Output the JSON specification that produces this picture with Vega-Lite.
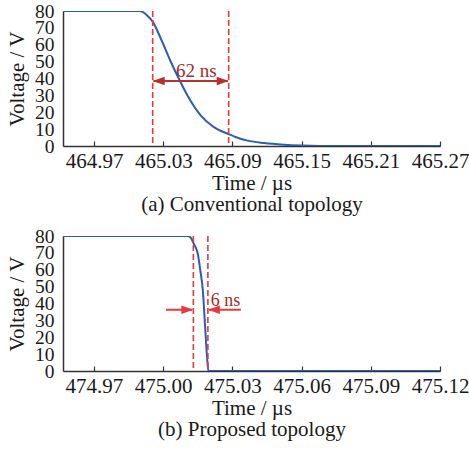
{
  "$schema": "https://vega.github.io/schema/vega-lite/v6.json",
  "padding": {"left": 6, "top": 1, "right": 0, "bottom": 12},
  "background": "white",
  "config": {
    "font": "Liberation Serif",
    "view": {"stroke": null},
    "concat": {"spacing": 12},
    "axis": {
      "labelFont": "Liberation Serif", "labelFontSize": 21, "labelColor": "#1a1a1a",
      "titleFont": "Liberation Serif", "titleFontSize": 21, "titleFontWeight": "normal", "titleColor": "#1a1a1a",
      "domainColor": "#333333", "domainWidth": 1.5, "tickColor": "#333333", "tickWidth": 1.2,
      "grid": false, "labelOverlap": false, "labelFlush": false
    },
    "axisX": {"tickSize": -5, "labelPadding": 9, "titlePadding": 1, "titleLineHeight": 21},
    "axisY": {"ticks": false, "labelPadding": 9, "titlePadding": 7, "labelFontSize": 19.5}
  },
  "datasets": {
    "wave_a": [
      {"t": 464.943, "v": 80}, {"t": 465.009, "v": 80}, {"t": 465.0125, "v": 79.3},
      {"t": 465.016, "v": 77.3}, {"t": 465.0208, "v": 73.7}, {"t": 465.028, "v": 63.4},
      {"t": 465.0366, "v": 49.8}, {"t": 465.0436, "v": 39.7}, {"t": 465.0511, "v": 29.8},
      {"t": 465.0626, "v": 18.0}, {"t": 465.0739, "v": 11.2}, {"t": 465.0867, "v": 7.0},
      {"t": 465.0956, "v": 4.6}, {"t": 465.1031, "v": 3.2}, {"t": 465.1173, "v": 1.8},
      {"t": 465.1346, "v": 0.8}, {"t": 465.15, "v": 0.3}, {"t": 465.165, "v": 0.05},
      {"t": 465.18, "v": 0}, {"t": 465.27, "v": 0}
    ],
    "wave_b": [
      {"t": 474.9566, "v": 80}, {"t": 475.0105, "v": 80}, {"t": 475.0120, "v": 79},
      {"t": 475.0132, "v": 75.6}, {"t": 475.0150, "v": 69.6}, {"t": 475.0161, "v": 59.7},
      {"t": 475.0172, "v": 47.9}, {"t": 475.0181, "v": 28.4}, {"t": 475.0190, "v": 8.9},
      {"t": 475.0196, "v": 0}, {"t": 475.12, "v": 0}
    ],
    "cuts_a": [{"t": 465.0208}, {"t": 465.0867}],
    "cuts_b": [{"t": 475.0131}, {"t": 475.0194}],
    "span_a": [{"t": 465.0215, "t2": 465.086, "v": 38.5}],
    "span_b": [{"t": 475.0012, "t2": 475.0125, "v": 36.3}, {"t": 475.0200, "t2": 475.0337, "v": 36.3}],
    "heads_a": [{"t": 465.0208, "v": 38.5, "dir": "l"}, {"t": 465.0867, "v": 38.5, "dir": "r"}],
    "heads_b": [{"t": 475.0131, "v": 36.3, "dir": "r"}, {"t": 475.0194, "v": 36.3, "dir": "l"}],
    "label_a": [{"t": 465.041, "v": 40.9, "text": "62 ns"}],
    "label_b": [{"t": 475.0206, "v": 38.7, "text": "6 ns"}]
  },
  "vconcat": [
    {
      "width": 377, "height": 135,
      "layer": [
        {
          "data": {"name": "wave_a"},
          "mark": {"type": "line", "color": "#2c5db3", "strokeWidth": 2, "interpolate": "monotone", "clip": true},
          "encoding": {
            "x": {"field": "t", "type": "quantitative",
                  "scale": {"domain": [464.943, 465.27], "nice": false, "zero": false},
                  "axis": {"values": [464.97, 465.03, 465.09, 465.15, 465.21, 465.27], "format": ".2f", "labelOverlap": false,
                           "title": ["Time / µs", "(a) Conventional topology"]}},
            "y": {"field": "v", "type": "quantitative",
                  "scale": {"domain": [0, 80], "nice": false},
                  "axis": {"values": [0, 10, 20, 30, 40, 50, 60, 70, 80], "labelOverlap": false, "title": "Voltage / V"}}
          }
        },
        {
          "data": {"name": "cuts_a"},
          "mark": {"type": "rule", "color": "#e8383a", "strokeWidth": 1.6, "strokeDash": [6, 3]},
          "encoding": {"x": {"field": "t", "type": "quantitative"}}
        },
        {
          "data": {"name": "span_a"},
          "mark": {"type": "rule", "color": "#b8302e", "strokeWidth": 2},
          "encoding": {
            "x": {"field": "t", "type": "quantitative"},
            "x2": {"field": "t2"},
            "y": {"field": "v", "type": "quantitative",
                  "axis": {"values": [0, 10, 20, 30, 40, 50, 60, 70, 80], "labelOverlap": false, "title": "Voltage / V"}}
          }
        },
        {
          "data": {"name": "heads_a"},
          "mark": {"type": "point", "filled": true, "color": "#b8302e", "opacity": 1, "size": 144},
          "encoding": {
            "x": {"field": "t", "type": "quantitative"},
            "y": {"field": "v", "type": "quantitative",
                  "axis": {"values": [0, 10, 20, 30, 40, 50, 60, 70, 80], "labelOverlap": false, "title": "Voltage / V"}},
            "shape": {"field": "dir", "type": "nominal", "legend": null,
                      "scale": {"domain": ["r", "l"], "range": ["M0,0L-2,-0.7L-2,0.7Z", "M0,0L2,-0.7L2,0.7Z"]}}
          }
        },
        {
          "data": {"name": "label_a"},
          "mark": {"type": "text", "align": "left", "baseline": "alphabetic", "fontSize": 19, "color": "#a82a28", "font": "Liberation Serif"},
          "encoding": {
            "x": {"field": "t", "type": "quantitative"},
            "y": {"field": "v", "type": "quantitative",
                  "axis": {"values": [0, 10, 20, 30, 40, 50, 60, 70, 80], "labelOverlap": false, "title": "Voltage / V"}},
            "text": {"field": "text"}
          }
        }
      ]
    },
    {
      "width": 377, "height": 135,
      "layer": [
        {
          "data": {"name": "wave_b"},
          "mark": {"type": "line", "color": "#2c5db3", "strokeWidth": 2, "interpolate": "monotone", "clip": true},
          "encoding": {
            "x": {"field": "t", "type": "quantitative",
                  "scale": {"domain": [474.9566, 475.12], "nice": false, "zero": false},
                  "axis": {"values": [474.97, 475.0, 475.03, 475.06, 475.09, 475.12], "format": ".2f", "labelOverlap": false,
                           "title": ["Time / µs", "(b) Proposed topology"]}},
            "y": {"field": "v", "type": "quantitative",
                  "scale": {"domain": [0, 80], "nice": false},
                  "axis": {"values": [0, 10, 20, 30, 40, 50, 60, 70, 80], "labelOverlap": false, "title": "Voltage / V"}}
          }
        },
        {
          "data": {"name": "cuts_b"},
          "mark": {"type": "rule", "color": "#e8383a", "strokeWidth": 1.6, "strokeDash": [6, 3]},
          "encoding": {"x": {"field": "t", "type": "quantitative"}}
        },
        {
          "data": {"name": "span_b"},
          "mark": {"type": "rule", "color": "#e8383a", "strokeWidth": 2},
          "encoding": {
            "x": {"field": "t", "type": "quantitative"},
            "x2": {"field": "t2"},
            "y": {"field": "v", "type": "quantitative",
                  "axis": {"values": [0, 10, 20, 30, 40, 50, 60, 70, 80], "labelOverlap": false, "title": "Voltage / V"}}
          }
        },
        {
          "data": {"name": "heads_b"},
          "mark": {"type": "point", "filled": true, "color": "#e8383a", "opacity": 1, "size": 144},
          "encoding": {
            "x": {"field": "t", "type": "quantitative"},
            "y": {"field": "v", "type": "quantitative",
                  "axis": {"values": [0, 10, 20, 30, 40, 50, 60, 70, 80], "labelOverlap": false, "title": "Voltage / V"}},
            "shape": {"field": "dir", "type": "nominal", "legend": null,
                      "scale": {"domain": ["r", "l"], "range": ["M0,0L-2,-0.7L-2,0.7Z", "M0,0L2,-0.7L2,0.7Z"]}}
          }
        },
        {
          "data": {"name": "label_b"},
          "mark": {"type": "text", "align": "left", "baseline": "alphabetic", "fontSize": 18, "color": "#a82a28", "font": "Liberation Serif"},
          "encoding": {
            "x": {"field": "t", "type": "quantitative"},
            "y": {"field": "v", "type": "quantitative",
                  "axis": {"values": [0, 10, 20, 30, 40, 50, 60, 70, 80], "labelOverlap": false, "title": "Voltage / V"}},
            "text": {"field": "text"}
          }
        }
      ]
    }
  ]
}
